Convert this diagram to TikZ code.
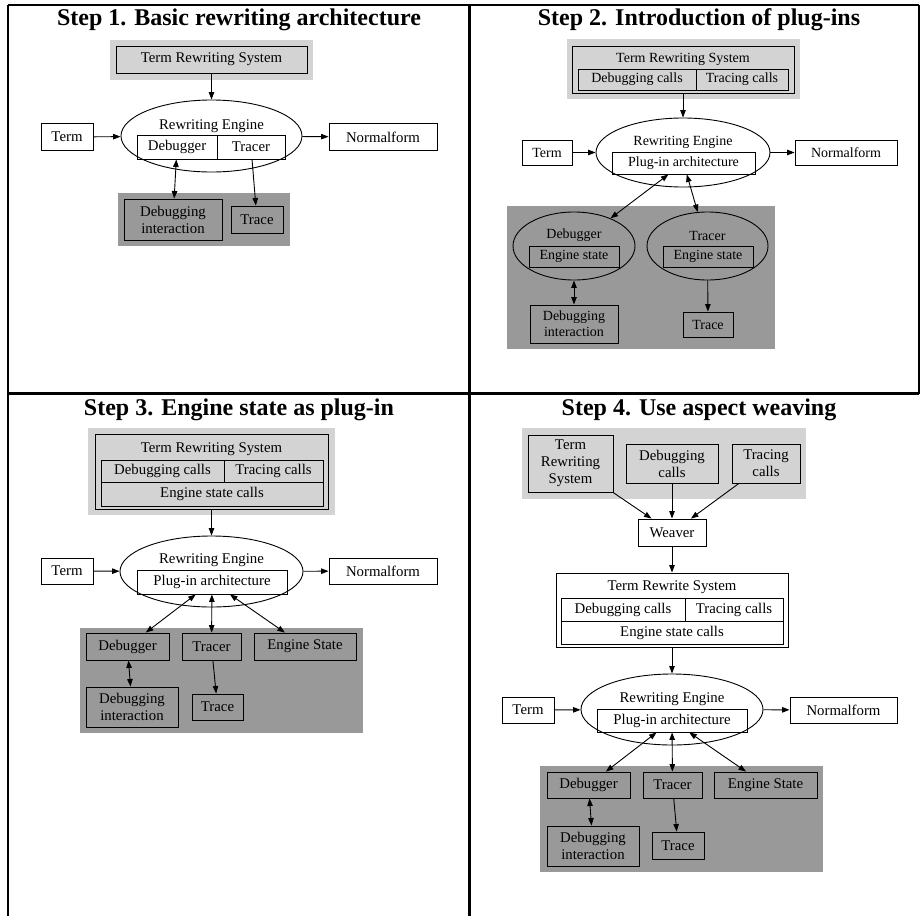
\documentclass[tikz,border=0pt]{standalone}
\usepackage{fontspec}
\setmainfont{Liberation Serif}
\usetikzlibrary{shapes.geometric,arrows.meta}
\definecolor{clusterlight}{HTML}{D3D3D3}
\definecolor{clusterdark}{HTML}{999999}

\begin{document}
\begin{tikzpicture}[x=1pt,y=-1pt,line width=0.9pt,>={Triangle[length=7.5pt,width=5.5pt]}]
	\tikzstyle{every node}=[font=\fontsize{14.8}{17}\selectfont, inner sep=0pt]
	\tikzstyle{box}=[draw, rectangle, align=center]
	\tikzstyle{lightbox}=[box, fill=clusterlight]
	\tikzstyle{darkbox}=[box, fill=clusterdark]
	\tikzstyle{engine}=[draw, ellipse]
	\tikzstyle{steptitle}=[font=\fontsize{24}{28}\selectfont\bfseries, anchor=base]
	\tikzstyle{smaller}=[font=\fontsize{14}{16}\selectfont]
	\tikzstyle{frame}=[line width=2.4pt]
	
	\useasboundingbox (0,0) rectangle (921,916);
	
	\draw [frame] (8,5) -- (919,5);
	\draw [frame] (8,5) -- (8,916);
	\draw [frame] (469.5,5) -- (469.5,916);
	\draw [frame] (919,5) -- (919,393.5);
	\draw [frame] (8,393.5) -- (919,393.5);
	
	% Step 1
	\node [steptitle] (title1) at (239,25) {Step 1. Basic rewriting architecture};
	\fill [clusterlight] (110,40) rectangle (313,80);
	\node [lightbox, minimum width=191, minimum height=27] (trs1) at (211.5,59.5) {Term Rewriting System};
	\node [engine, minimum width=181, minimum height=72] (engine1) at (211.5,136) {};
	\node (engtext1) at (211.5,126) {Rewriting Engine};
	\node [box, minimum width=80, minimum height=24] (dbg1) at (177,147) {Debugger};
	\node [box, minimum width=68, minimum height=24] (trc1) at (251,147) {Tracer};
	\node [box, minimum width=52, minimum height=27] (term1) at (67,137) {Term};
	\node [box, minimum width=108, minimum height=27] (norm1) at (383,137) {Normalform};
	\fill [clusterdark] (118,193) rectangle (290,246);
	\node [darkbox, minimum width=98, minimum height=41] (dbi1) at (173,219.5) {Debugging\\interaction};
	\node [darkbox, minimum width=52, minimum height=27] (trace1) at (257,219.5) {Trace};
	\draw [->] (trs1) -- (engine1);
	\draw [->] (term1) -- (engine1);
	\draw [->] (engine1) -- (norm1);
	\draw [<->] (dbg1) -- (dbi1);
	\draw [->] (trc1) -- (trace1);
	
	% Step 2
	\node [steptitle] (title2) at (699,25) {Step 2. Introduction of plug-ins};
	\fill [clusterlight] (567,39) rectangle (800,99);
	\node [lightbox, minimum width=222, minimum height=47] (trs2) at (683,69.5) {};
	\node [smaller] (trstext2) at (683,59) {Term Rewriting System};
	\node [lightbox, smaller, minimum width=118, minimum height=21] (dcalls2) at (637,79.5) {Debugging calls};
	\node [lightbox, smaller, minimum width=92, minimum height=21] (tcalls2) at (742,79.5) {Tracing calls};
	\node [engine, minimum width=174, minimum height=69] (engine2) at (683,152.5) {};
	\node [smaller] (engtext2) at (683,142) {Rewriting Engine};
	\node [box, smaller, minimum width=143, minimum height=22] (plug2) at (683.5,163) {Plug-in architecture};
	\node [box, smaller, minimum width=50, minimum height=25] (term2) at (547,152.5) {Term};
	\node [box, smaller, minimum width=102, minimum height=25] (norm2) at (846,152.5) {Normalform};
	\fill [clusterdark] (507,206) rectangle (775,349);
	\node [engine, fill=clusterdark, minimum width=122, minimum height=68] (dbgell2) at (574,246) {};
	\node [smaller] (dbgtext2) at (574,235.5) {Debugger};
	\node [darkbox, smaller, minimum width=90, minimum height=21] (dbgst2) at (574,256.5) {Engine state};
	\node [engine, fill=clusterdark, minimum width=121, minimum height=68] (trcell2) at (707.5,246) {};
	\node [smaller] (trctext2) at (707.5,235.5) {Tracer};
	\node [darkbox, smaller, minimum width=90, minimum height=21] (trcst2) at (708,256.5) {Engine state};
	\node [darkbox, smaller, minimum width=88, minimum height=38] (dbi2) at (574,324) {Debugging\\interaction};
	\node [darkbox, smaller, minimum width=50, minimum height=25] (trace2) at (708,324.5) {Trace};
	\draw [->] (trs2) -- (engine2);
	\draw [->] (term2) -- (engine2);
	\draw [->] (engine2) -- (norm2);
	\draw [<->] (plug2) -- (dbgell2);
	\draw [<->] (plug2) -- (trcell2);
	\draw [<->] (dbgell2) -- (dbi2);
	\draw [->] (trcell2) -- (trace2);
	
	% Step 3
	\node [steptitle] (title3) at (239,415) {Step 3. Engine state as plug-in};
	\fill [clusterlight] (88,428) rectangle (335,515);
	\node [lightbox, minimum width=233, minimum height=75] (trs3) at (211.5,471.5) {};
	\node (trstext3) at (211.5,449) {Term Rewriting System};
	\node [lightbox, minimum width=123, minimum height=22] (dcalls3) at (162.5,471) {Debugging calls};
	\node [lightbox, minimum width=99, minimum height=22] (tcalls3) at (273.5,471) {Tracing calls};
	\node [lightbox, minimum width=222, minimum height=24] (escalls3) at (212,494) {Engine state calls};
	\node [engine, minimum width=183, minimum height=71] (engine3) at (211.5,571.5) {};
	\node (engtext3) at (211.5,560.5) {Rewriting Engine};
	\node [box, minimum width=150, minimum height=24] (plug3) at (212,582) {Plug-in architecture};
	\node [box, minimum width=52, minimum height=26] (term3) at (67,571) {Term};
	\node [box, minimum width=108, minimum height=26] (norm3) at (383,571) {Normalform};
	\fill [clusterdark] (80,628) rectangle (363,733);
	\node [darkbox, minimum width=83, minimum height=27] (dbg3) at (127.5,646.5) {Debugger};
	\node [darkbox, minimum width=59, minimum height=27] (trc3) at (211.5,646.5) {Tracer};
	\node [darkbox, minimum width=102, minimum height=27] (est3) at (305,646.5) {Engine State};
	\node [darkbox, minimum width=92, minimum height=40] (dbi3) at (132,707) {Debugging\\interaction};
	\node [darkbox, minimum width=51, minimum height=26] (trace3) at (217.5,707) {Trace};
	\draw [->] (trs3) -- (engine3);
	\draw [->] (term3) -- (engine3);
	\draw [->] (engine3) -- (norm3);
	\draw [<->] (plug3) -- (dbg3);
	\draw [<->] (plug3) -- (trc3);
	\draw [<->] (plug3) -- (est3);
	\draw [<->] (dbg3) -- (dbi3);
	\draw [->] (trc3) -- (trace3);
	
	% Step 4
	\node [steptitle] (title4) at (699,415) {Step 4. Use aspect weaving};
	\fill [clusterlight] (522,428) rectangle (806,499);
	\node [lightbox, minimum width=85, minimum height=57] (trs4) at (570.5,463.5) {Term\\Rewriting\\System};
	\node [lightbox, minimum width=92, minimum height=39] (dcalls4) at (672,463.5) {Debugging\\calls};
	\node [lightbox, minimum width=68, minimum height=39] (tcalls4) at (766,463.5) {Tracing\\calls};
	\node [box, minimum width=68, minimum height=27] (weaver4) at (672,532.5) {Weaver};
	\node [box, minimum width=232, minimum height=74] (trsw4) at (672,610) {};
	\node (trswtext4) at (672,587) {Term Rewrite System};
	\node [box, minimum width=124, minimum height=23] (dcallsw4) at (623,609.5) {Debugging calls};
	\node [box, minimum width=98, minimum height=23] (tcallsw4) at (734,609.5) {Tracing calls};
	\node [box, minimum width=222, minimum height=23] (escallsw4) at (672,632.5) {Engine state calls};
	\node [engine, minimum width=182, minimum height=71] (engine4) at (672,709.5) {};
	\node (engtext4) at (672,699) {Rewriting Engine};
	\node [box, minimum width=150, minimum height=23] (plug4) at (672,720.5) {Plug-in architecture};
	\node [box, minimum width=52, minimum height=26] (term4) at (528,710) {Term};
	\node [box, minimum width=107, minimum height=26] (norm4) at (843.5,710) {Normalform};
	\fill [clusterdark] (540,766) rectangle (823,872);
	\node [darkbox, minimum width=83, minimum height=26] (dbg4) at (588.5,785) {Debugger};
	\node [darkbox, minimum width=59, minimum height=26] (trc4) at (672.5,785) {Tracer};
	\node [darkbox, minimum width=103, minimum height=26] (est4) at (765.5,785) {Engine State};
	\node [darkbox, minimum width=92, minimum height=40] (dbi4) at (593,846) {Debugging\\interaction};
	\node [darkbox, minimum width=52, minimum height=27] (trace4) at (678,845.5) {Trace};
	\draw [->] (trs4) -- (weaver4);
	\draw [->] (dcalls4) -- (weaver4);
	\draw [->] (tcalls4) -- (weaver4);
	\draw [->] (weaver4) -- (trsw4);
	\draw [->] (trsw4) -- (engine4);
	\draw [->] (term4) -- (engine4);
	\draw [->] (engine4) -- (norm4);
	\draw [<->] (plug4) -- (dbg4);
	\draw [<->] (plug4) -- (trc4);
	\draw [<->] (plug4) -- (est4);
	\draw [<->] (dbg4) -- (dbi4);
	\draw [->] (trc4) -- (trace4);
\end{tikzpicture}
\end{document}
